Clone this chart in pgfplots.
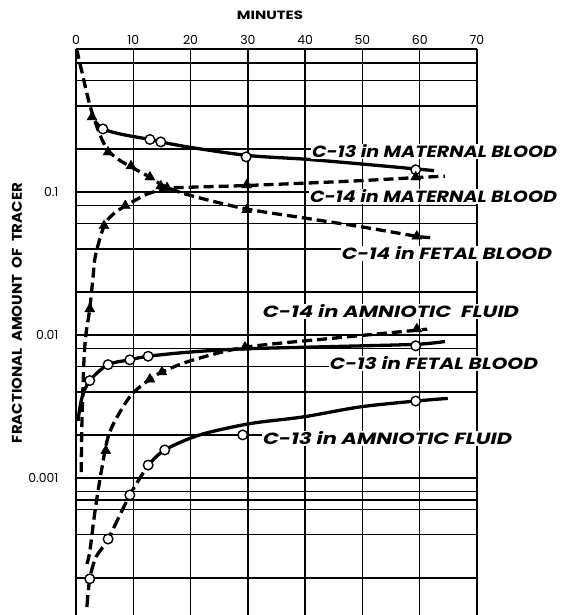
\documentclass[border=0pt]{standalone}
\usepackage{fontspec}
\setmainfont{Poppins}
\usepackage{pgfplots}
\pgfplotsset{compat=1.18}
\newcommand{\lab}[2]{\resizebox{#1}{13bp}{\bfseries\itshape #2}}
\begin{document}
\begin{tikzpicture}
\useasboundingbox (-76bp,0) rectangle (487bp,615bp);
\begin{axis}[
  at={(0,0)}, anchor=south west,
  scale only axis, width=401bp, height=566bp,
  xmin=0, xmax=70, ymode=log, ymin=1.1e-4, ymax=1,
  axis x line*=top, axis y line*=box,
  axis line style={-, line width=1.5bp},
  xtick={0,10,20,30,40,50,60,70}, xticklabels={0,10,20,30,40,50,60,70},
  ytick={2e-4,4e-4,6e-4,7e-4,8e-4,1e-3,2e-3,4e-3,6e-3,8e-3,1e-2,0.02,0.04,0.06,0.08,0.1,0.2,0.4,0.6,0.8,1},
  yticklabels={,,,,,0.001,,,,,0.01,,,,,0.1,,,,,},
  ymajorgrids, xmajorgrids,
  major grid style={black, line width=1.3bp},
  major tick length=0pt,
  tick label style={font=\fontsize{12.5}{13}\selectfont},
  xticklabel style={yshift=1bp},
  yticklabel style={xshift=-14bp},
  clip=false,
]
% C-13 maternal blood (solid)
\addplot[black, line width=3.3bp, smooth, tension=0.5] coordinates {
 (3.3,0.314) (4.7,0.276) (8,0.253) (12.9,0.233) (14.8,0.224) (20,0.205) (30,0.180) (39.6,0.170) (47.5,0.160) (59.3,0.145) (62.5,0.141)};
\addplot[only marks, mark=*, mark size=4.8bp, mark options={fill=white, draw=black, line width=1.4bp}] coordinates {
 (4.7,0.276) (12.9,0.233) (14.8,0.224) (29.7,0.176) (59.3,0.143)};
% C-14 fetal blood (decreasing, dashed)
\addplot[black, line width=3.3bp, dash pattern=on 10bp off 5bp, smooth, tension=0.5] coordinates {
 (0.1,1.0) (1.0,0.70) (2.0,0.47) (2.8,0.36) (4.2,0.25) (5.6,0.195) (7.5,0.168) (9.6,0.150) (12.9,0.127) (15,0.112) (18,0.100) (22,0.090) (29.8,0.076) (39.6,0.066) (49.9,0.057) (59.5,0.049) (62,0.048)};
\addplot[only marks, mark=triangle*, mark size=5.8bp, mark options={fill=black, draw=black}] coordinates {
 (2.8,0.334) (5.6,0.19) (9.6,0.152) (12.9,0.127) (14.8,0.110) (29.8,0.075) (59.5,0.049)};
% C-14 maternal blood (rising, dashed)
\addplot[black, line width=3.3bp, dash pattern=on 10bp off 5bp, smooth, tension=0.5] coordinates {
 (0.9,0.0011) (1.05,0.0026) (1.4,0.0068) (1.75,0.0102) (2.4,0.0152) (3.0,0.026) (3.4,0.036) (4.9,0.058) (6.5,0.070) (8.6,0.080) (10,0.086) (12.5,0.097) (16,0.106) (20,0.108) (29.8,0.111) (47.8,0.119) (59.3,0.126) (64.4,0.129)};
\addplot[only marks, mark=triangle*, mark size=5.8bp, mark options={fill=black, draw=black}] coordinates {
 (2.4,0.0152) (4.9,0.058) (8.6,0.080) (15.9,0.107) (29.8,0.112) (59.3,0.127)};
% C-13 fetal blood (solid)
\addplot[black, line width=3.3bp, smooth, tension=0.5] coordinates {
 (0.35,0.0025) (1.0,0.0036) (2.4,0.0048) (5.6,0.0062) (9.4,0.0067) (12.6,0.0071) (20,0.0076) (29.5,0.0080) (45,0.0083) (59.3,0.0086) (64.4,0.0090)};
\addplot[only marks, mark=*, mark size=4.8bp, mark options={fill=white, draw=black, line width=1.4bp}] coordinates {
 (2.4,0.0048) (5.6,0.0062) (9.4,0.0067) (12.6,0.0071) (59.3,0.0084)};
% C-14 amniotic fluid (dashed)
\addplot[black, line width=3.3bp, dash pattern=on 10bp off 5bp, smooth, tension=0.5] coordinates {
 (1.9,0.00025) (2.4,0.000304) (3.3,0.00058) (4.5,0.00116) (5.9,0.0021) (9.4,0.0037) (12.9,0.0049) (15,0.0055) (20,0.0066) (29.5,0.0082) (45,0.0095) (59.5,0.0108) (61.3,0.011)};
\addplot[only marks, mark=triangle*, mark size=5.8bp, mark options={fill=black, draw=black}] coordinates {
 (5.2,0.00155) (12.9,0.0049) (15,0.0055) (29.5,0.0082) (59.5,0.011)};
% C-13 amniotic fluid
\addplot[black, line width=3.3bp, dash pattern=on 12bp off 5bp, smooth, tension=0.5] coordinates {
 (1.9,0.000125) (2.4,0.000197) (3.5,0.00028) (5.6,0.000374) (9.4,0.00076) (12.6,0.00123)};
\addplot[black, line width=3.3bp, smooth, tension=0.5] coordinates {
 (12.6,0.00123) (15.5,0.00157) (21.6,0.0020) (30.4,0.0024) (39.6,0.00267) (49.6,0.00314) (59.3,0.00345) (64.9,0.0036)};
\addplot[only marks, mark=*, mark size=4.8bp, mark options={fill=white, draw=black, line width=1.4bp}] coordinates {
 (2.4,0.000197) (5.6,0.000374) (9.4,0.00076) (12.6,0.00123) (15.5,0.00157) (29.1,0.0020) (59.3,0.00345)};
\end{axis}
\node at (194bp,600bp) {\resizebox{66bp}{8.5bp}{\bfseries MINUTES}};
\node[rotate=90] at (-59bp,302bp) {\resizebox{260bp}{10bp}{\bfseries FRACTIONAL\ \ AMOUNT\ \ OF\ \ TRACER}};
\node[fill=white, inner sep=1bp] at (358.5bp,463.5bp) {\lab{245bp}{C-13 in MATERNAL BLOOD}};
\node[fill=white, inner sep=1bp] at (357.5bp,418.5bp) {\lab{247bp}{C-14 in MATERNAL BLOOD}};
\node[fill=white, inner sep=1bp] at (371bp,361.5bp) {\lab{210bp}{C-14 in FETAL BLOOD}};
\node[fill=white, inner sep=1bp] at (315bp,303.5bp) {\lab{256bp}{C-14 in AMNIOTIC\ \ FLUID}};
\node[fill=white, inner sep=1bp] at (358bp,251.5bp) {\lab{208bp}{C-13 in FETAL BLOOD}};
\node[fill=white, inner sep=1bp] at (311.5bp,176.5bp) {\lab{249bp}{C-13 in AMNIOTIC FLUID}};
\end{tikzpicture}
\end{document}
